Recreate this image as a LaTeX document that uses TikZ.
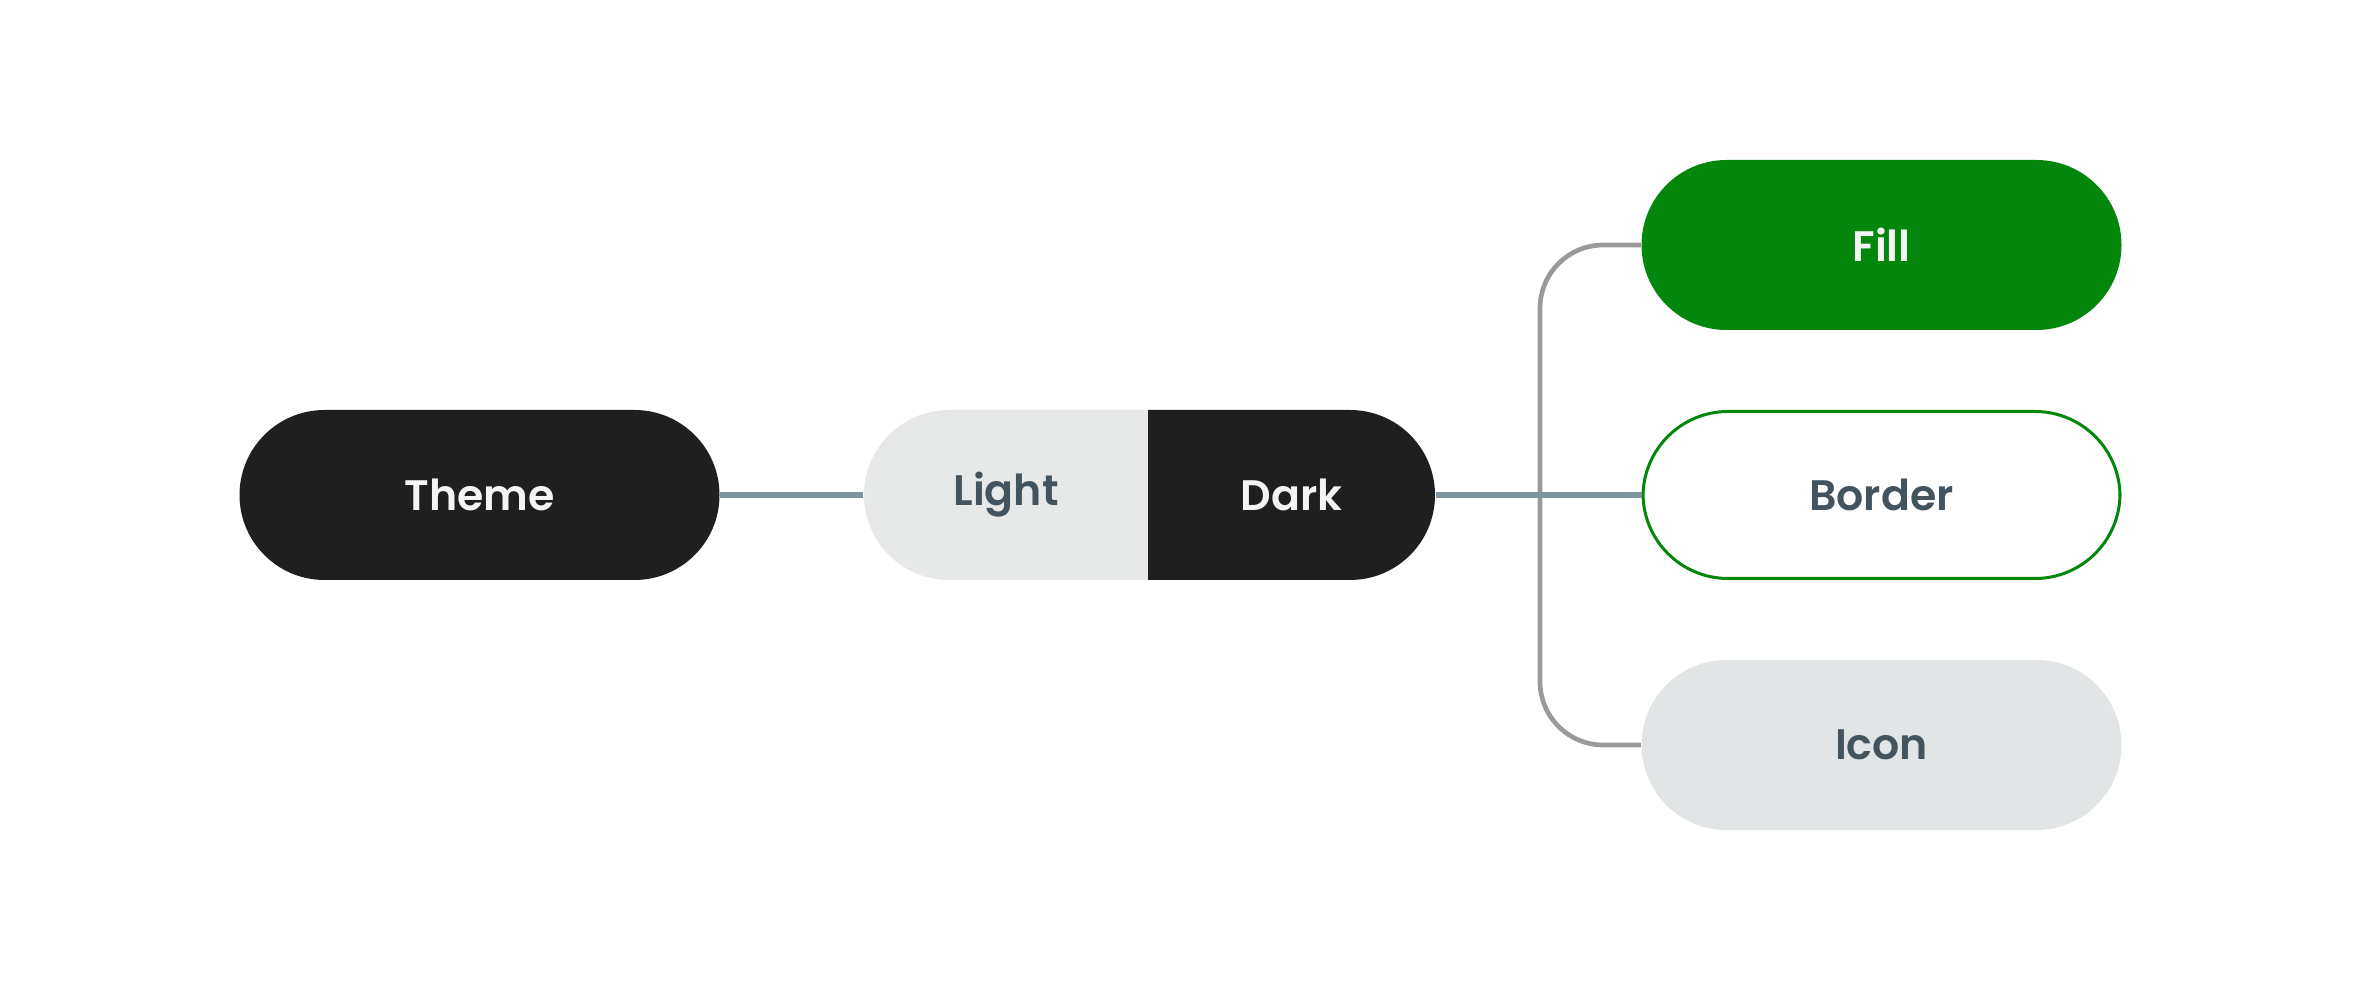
\documentclass[tikz,border=0pt]{standalone}
\usepackage{fontspec}
\setmainfont{Poppins}[BoldFont={Poppins SemiBold}]
\definecolor{darkfill}{HTML}{1E1F1E}
\definecolor{lightfill}{HTML}{E7E8E8}
\definecolor{iconfill}{HTML}{E2E5E6}
\definecolor{greenfill}{HTML}{02870C}
\definecolor{slatetext}{HTML}{44545F}
\definecolor{whitetext}{HTML}{F4F4F4}
\definecolor{linkblue}{HTML}{7F96A0}
\definecolor{bracketgray}{HTML}{9A9A9A}
\begin{document}
\begin{tikzpicture}[x=0.3pt,y=-0.3pt,
  pill/.style={rectangle, rounded corners=25.5pt, minimum width=144pt, minimum height=51pt, inner sep=0pt, font=\bfseries\fontsize{12.8}{14}\selectfont},
  half/.style={rectangle, minimum width=85.2pt, minimum height=51pt, inner sep=0pt, font=\bfseries\fontsize{12.8}{14}\selectfont},
  link/.style={draw=linkblue, line width=1.8pt},
  bracket/.style={draw=bracketgray, line width=1.4pt, rounded corners=19pt}]
\useasboundingbox (0,0) rectangle (2360,990);
% light/dark split pill backgrounds
\fill[lightfill, rounded corners=25.5pt] (1148,410) -- (864,410) -- (864,580) -- (1148,580);
\fill[darkfill, rounded corners=25.5pt] (1148,410) -- (1435,410) -- (1435,580) -- (1148,580);
\node[pill, fill=darkfill, text=whitetext] (theme) at (479.5,495) {Theme};
\node[half, text=slatetext] (light) at (1006,495) {Light};
\node[half, text=whitetext, minimum width=86.1pt] (dark) at (1291.5,495) {Dark};
\node[pill, fill=greenfill, text=whitetext] (fill) at (1881.5,245) {Fill};
\node[pill, draw=greenfill, line width=0.9pt, fill=white, text=slatetext, minimum width=143.1pt, minimum height=50.1pt] (border) at (1881.5,495) {Border};
\node[pill, fill=iconfill, text=slatetext] (icon) at (1881.5,745) {Icon};
\coordinate (bx) at (1540,495);
\draw[link] (theme.east) -- (light.west);
\draw[bracket] (fill.west) -| (bx) |- (icon.west);
\draw[link] (dark.east) -- (border.west);
\end{tikzpicture}
\end{document}
